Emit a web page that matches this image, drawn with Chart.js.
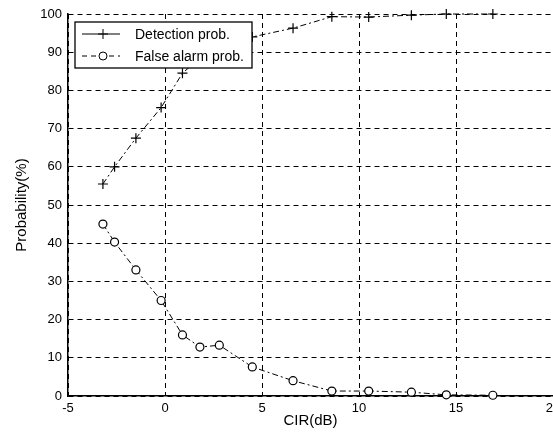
<!DOCTYPE html>
<html>
<head>
<meta charset="utf-8">
<script src="https://cdn.jsdelivr.net/npm/chart.js@4.4.0/dist/chart.umd.min.js"></script>
<style>
  body { margin: 0; overflow: hidden; background: #fff; }
</style>
</head>
<body>
<canvas id="probChart" width="580" height="441"></canvas>
<script>
// values
const cir = [-3.2, -2.6, -1.5, -0.2, 0.9, 1.8, 2.8, 4.5, 6.6, 8.6, 10.5, 12.7, 14.5, 16.9];
const detectionProb = [55.5, 60, 67.5, 75.5, 84.5, 88.5, 91.5, 94, 96.3, 99.3, 99.2, 99.7, 100, 100];
const falseAlarmProb = [45, 40.3, 33, 25, 16, 12.8, 13.3, 7.6, 4, 1.3, 1.3, 1, 0.3, 0.2];
const xTicks = [-5, 0, 5, 10, 15, 20];
const yTicks = [0, 10, 20, 30, 40, 50, 60, 70, 80, 90, 100];

const toPoints = (ys) => ys.map((y, i) => ({x: cir[i], y: y}));

// legend box drawn inside the plot, like the original figure
const boxLegend = {
    id: 'boxLegend',
    afterDatasetsDraw(chart) {
        const ctx = chart.ctx;
        const area = chart.chartArea;
        const x0 = area.left + 7, y0 = area.top + 8, w = 177, h = 46;
        ctx.save();
        ctx.fillStyle = '#fff';
        ctx.fillRect(x0, y0, w, h);
        ctx.strokeStyle = '#000';
        ctx.lineWidth = 1.3;
        ctx.strokeRect(x0, y0, w, h);

        chart.data.datasets.forEach((ds, i) => {
            const y = y0 + 12 + i * 22;
            ctx.lineWidth = 1;
            ctx.setLineDash(i === 0 ? [] : [5, 4]);
            ctx.beginPath();
            ctx.moveTo(x0 + 7, y);
            ctx.lineTo(x0 + 45, y);
            ctx.stroke();
            ctx.setLineDash([]);
            const mx = x0 + 28;
            ctx.beginPath();
            if (ds.pointStyle === 'cross') {
                ctx.moveTo(mx - 5, y); ctx.lineTo(mx + 5, y);
                ctx.moveTo(mx, y - 5); ctx.lineTo(mx, y + 5);
            } else {
                ctx.fillStyle = '#fff';
                ctx.arc(mx, y, 4, 0, Math.PI * 2);
                ctx.fill();
            }
            ctx.stroke();
            ctx.fillStyle = '#000';
            ctx.font = '14px "Liberation Sans", Arial, sans-serif';
            ctx.textBaseline = 'middle';
            ctx.fillText(ds.label, x0 + 60, y + 1);
        });
        ctx.restore();
    }
};

const ctx = document.getElementById('probChart').getContext('2d');
const chart = new Chart(ctx, {
    type: 'line',
    data: {
        datasets: [{
            label: 'Detection prob.',
            data: toPoints(detectionProb),
            borderColor: '#000',
            borderWidth: 1,
            borderDash: [6, 3, 2, 3],
            pointStyle: 'cross',
            pointRadius: 5,
            pointBorderWidth: 1.2,
            pointBorderColor: '#000',
            fill: false,
            clip: false
        }, {
            label: 'False alarm prob.',
            data: toPoints(falseAlarmProb),
            borderColor: '#000',
            borderWidth: 1,
            borderDash: [6, 3, 2, 3],
            pointStyle: 'circle',
            pointRadius: 4,
            pointBorderWidth: 1.2,
            pointBorderColor: '#000',
            pointBackgroundColor: '#fff',
            fill: false,
            clip: false
        }]
    },
    options: {
        responsive: false,
        animation: false,
        layout: {
            padding: {left: 0, top: 14, right: 27, bottom: 0}
        },
        scales: {
            x: {
                type: 'linear',
                min: -5,
                max: 20,
                afterBuildTicks: (scale) => { scale.ticks = xTicks.map(v => ({value: v})); },
                afterFit: (scale) => { scale.height = 45; },
                ticks: {
                    color: '#000',
                    padding: 5,
                    font: {family: '"Liberation Sans", Arial, sans-serif', size: 13}
                },
                grid: {color: '#000', lineWidth: 1, drawTicks: false},
                border: {color: '#000', width: 1.5, dash: [5, 4]},
                title: {
                    display: true,
                    text: 'CIR(dB)',
                    color: '#000',
                    padding: {top: 0, bottom: 11},
                    font: {family: '"Liberation Sans", Arial, sans-serif', size: 15}
                }
            },
            y: {
                min: 0,
                max: 100,
                afterBuildTicks: (scale) => { scale.ticks = yTicks.map(v => ({value: v})); },
                afterFit: (scale) => { scale.width = 68; },
                ticks: {
                    color: '#000',
                    padding: 6,
                    font: {family: '"Liberation Sans", Arial, sans-serif', size: 13}
                },
                grid: {color: '#000', lineWidth: 1, drawTicks: false},
                border: {color: '#000', width: 1.5, dash: [5, 4]},
                title: {
                    display: true,
                    text: 'Probability(%)',
                    color: '#000',
                    padding: {top: 13, bottom: 0},
                    font: {family: '"Liberation Sans", Arial, sans-serif', size: 15}
                }
            }
        },
        plugins: {
            legend: {display: false},
            tooltip: {enabled: false}
        }
    },
    plugins: [boxLegend]
});
</script>
</body>
</html>
